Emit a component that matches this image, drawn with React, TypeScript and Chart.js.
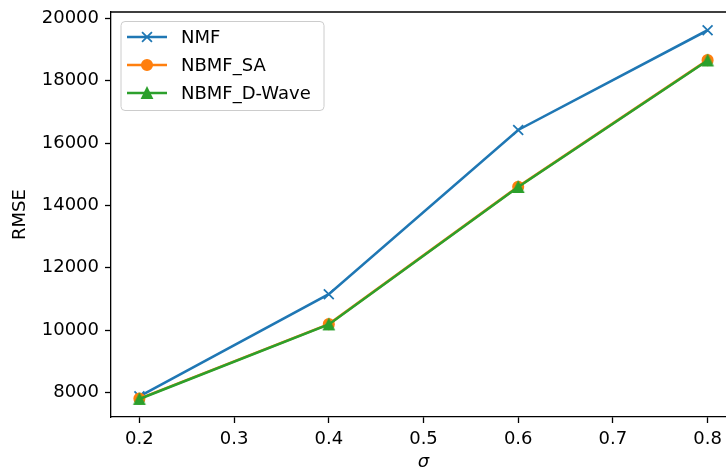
import React, { useEffect, useRef } from 'react';
import { Chart, registerables } from 'chart.js';
import { drawPoint } from 'chart.js/helpers';

Chart.register(...registerables);

// ---- data ----
const sigma = [0.2, 0.4, 0.6, 0.8];
const nmf = [7870, 11150, 16420, 19620];
const nbmfSA = [7800, 10190, 14600, 18660];
const nbmfDWave = [7790, 10180, 14590, 18650];

const seriesLabels = ['NMF', 'NBMF_SA', 'NBMF_D-Wave'];
const xTicks = [0.2, 0.3, 0.4, 0.5, 0.6, 0.7, 0.8];
const yTicks = [8000, 10000, 12000, 14000, 16000, 18000, 20000];
const xTitle = 'σ';
const yTitle = 'RMSE';

const FONT = "'DejaVu Sans', sans-serif";
const C_BLUE = '#1f77b4';
const C_ORANGE = '#ff7f0e';
const C_GREEN = '#2ca02c';

// matplotlib-style '^' marker: centred on its bounding box
function makeTriangle(color: string): HTMLCanvasElement {
  const S = 16;
  const c = document.createElement('canvas');
  c.width = S;
  c.height = S;
  const g = c.getContext('2d')!;
  const h = 5.1;
  const m = S / 2;
  g.beginPath();
  g.moveTo(m, m - h);
  g.lineTo(m - h, m + h);
  g.lineTo(m + h, m + h);
  g.closePath();
  g.fillStyle = color;
  g.strokeStyle = color;
  g.lineWidth = 1.6;
  g.lineJoin = 'miter';
  g.fill();
  g.stroke();
  return c;
}

const frameAndLegend = {
  id: 'frameAndLegend',
  afterDraw(chart: any) {
    const { ctx, chartArea } = chart;
    ctx.save();
    // top and right spines
    ctx.strokeStyle = '#000';
    ctx.lineWidth = 1.3;
    ctx.beginPath();
    ctx.moveTo(chartArea.left, chartArea.top);
    ctx.lineTo(chartArea.right, chartArea.top);
    ctx.lineTo(chartArea.right, chartArea.bottom);
    ctx.stroke();

    // legend
    const x0 = chartArea.left + 10;
    const y0 = chartArea.top + 9.5;
    const w = 203;
    const h = 89;
    ctx.beginPath();
    ctx.roundRect(x0, y0, w, h, 4);
    ctx.fillStyle = 'rgba(255,255,255,0.8)';
    ctx.fill();
    ctx.strokeStyle = '#cccccc';
    ctx.lineWidth = 1;
    ctx.stroke();

    chart.data.datasets.forEach((ds: any, i: number) => {
      const cy = y0 + 15.5 + i * 28;
      const lx0 = x0 + 6;
      const lx1 = x0 + 46;
      ctx.strokeStyle = ds.borderColor;
      ctx.lineWidth = ds.borderWidth;
      ctx.beginPath();
      ctx.moveTo(lx0, cy);
      ctx.lineTo(lx1, cy);
      ctx.stroke();
      ctx.fillStyle = ds.pointBackgroundColor;
      ctx.strokeStyle = ds.pointBorderColor;
      ctx.lineWidth = ds.pointBorderWidth;
      drawPoint(ctx, { pointStyle: ds.pointStyle, radius: ds.pointRadius, borderWidth: ds.pointBorderWidth, rotation: 0 }, (lx0 + lx1) / 2, cy);
      ctx.fillStyle = '#000';
      ctx.font = `18px ${FONT}`;
      ctx.textAlign = 'left';
      ctx.textBaseline = 'middle';
      ctx.fillText(ds.label, x0 + 60, cy + 1);
    });
    ctx.restore();
  },
};

export default function App() {
  const ref = useRef<HTMLCanvasElement | null>(null);

  useEffect(() => {
    if (!ref.current) return;
    const mk = (ys: number[]) => sigma.map((x, i) => ({ x, y: ys[i] }));
    const tri = makeTriangle(C_GREEN);
    const chart = new Chart(ref.current, {
      type: 'line',
      data: {
        datasets: [
          {
            label: seriesLabels[0],
            data: mk(nmf),
            order: 2,
            borderColor: C_BLUE,
            backgroundColor: C_BLUE,
            borderWidth: 2.6,
            pointStyle: 'crossRot',
            pointRadius: 7,
            pointBorderWidth: 1.75,
            pointBackgroundColor: C_BLUE,
            pointBorderColor: C_BLUE,
          },
          {
            label: seriesLabels[1],
            data: mk(nbmfSA),
            order: 1,
            borderColor: C_ORANGE,
            backgroundColor: C_ORANGE,
            borderWidth: 2.6,
            pointStyle: 'circle',
            pointRadius: 5.25,
            pointBorderWidth: 1.6,
            pointBackgroundColor: C_ORANGE,
            pointBorderColor: C_ORANGE,
          },
          {
            label: seriesLabels[2],
            data: mk(nbmfDWave),
            order: 0,
            borderColor: C_GREEN,
            backgroundColor: C_GREEN,
            borderWidth: 2.6,
            pointStyle: tri,
            pointRadius: 6,
            pointBorderWidth: 0,
            pointBackgroundColor: C_GREEN,
            pointBorderColor: C_GREEN,
          },
        ],
      } as any,
      options: {
        animation: false,
        responsive: false,
        devicePixelRatio: 1,
        events: [],
        layout: { padding: { top: 12, right: 10, left: 0, bottom: 0 } },
        plugins: { legend: { display: false }, tooltip: { enabled: false } },
        elements: { line: { tension: 0 } },
        scales: {
          x: {
            type: 'linear',
            min: 0.17,
            max: 0.83,
            afterBuildTicks: (s: any) => { s.ticks = xTicks.map((v) => ({ value: v })); },
            afterFit: (s: any) => { s.height = 53; s.paddingLeft = 0; s.paddingRight = 0; },
            ticks: {
              callback: (v: any) => Number(v).toFixed(1),
              font: { family: FONT, size: 18 },
              color: '#000',
              padding: 6,
              maxRotation: 0,
              autoSkip: false,
            },
            grid: { display: true, drawOnChartArea: false, drawTicks: true, tickLength: 6, tickColor: '#000', tickWidth: 1.3 },
            border: { display: true, color: '#000', width: 1.3 },
            title: { display: true, text: xTitle, font: { family: FONT, size: 18, style: 'italic', lineHeight: 0.9 }, color: '#000', padding: 0 },
          },
          y: {
            type: 'linear',
            min: 7210,
            max: 20205,
            afterBuildTicks: (s: any) => { s.ticks = yTicks.map((v) => ({ value: v })); },
            afterFit: (s: any) => { s.width = 111; s.paddingTop = 0; s.paddingBottom = 0; },
            ticks: {
              callback: (v: any) => String(v),
              font: { family: FONT, size: 18 },
              color: '#000',
              padding: 6,
              autoSkip: false,
            },
            grid: { display: true, drawOnChartArea: false, drawTicks: true, tickLength: 6, tickColor: '#000', tickWidth: 1.3 },
            border: { display: true, color: '#000', width: 1.3 },
            title: { display: true, text: yTitle, font: { family: FONT, size: 18, lineHeight: 1.2 }, color: '#000', padding: { top: 10, bottom: 0 } },
          },
        },
      } as any,
      plugins: [frameAndLegend],
    });
    return () => chart.destroy();
  }, []);

  return (
    <div style={{ position: 'absolute', left: 0, top: 0, width: 726, height: 470, overflow: 'hidden', background: '#fff' }}>
      <canvas ref={ref} width={746} height={470} style={{ display: 'block' }} />
    </div>
  );
}
